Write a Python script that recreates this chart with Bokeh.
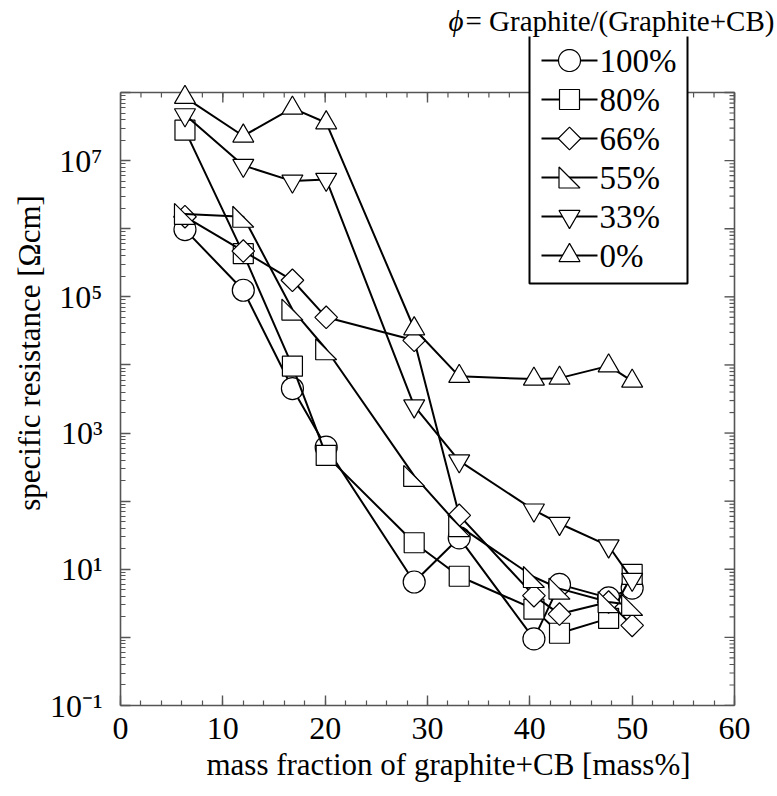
import numpy as np
from bokeh.plotting import figure
from bokeh.models import (FixedTicker, SingleIntervalTicker, CustomJSTickFormatter,
                          Label, PolyAnnotation)
from bokeh.embed import file_html
from bokeh.resources import INLINE

# ---------------- data ----------------
mass_fraction = [6.3, 12.0, 16.8, 20.1, 28.7, 33.1, 40.4, 42.9, 47.7, 50.0]
phi_labels = ["100%", "80%", "66%", "55%", "33%", "0%"]
res_100 = [9.7e5, 1.25e5, 4.5e3, 620, 6.5, 29, 0.95, 6.0, 3.8, 5.3]
res_80 = [2.8e7, 4.3e5, 9.6e3, 470, 24.5, 7.9, 2.6, 1.15, 1.9, 8.4]
res_66 = [1.5e6, 4.7e5, 1.75e5, 5.0e4, 2.3e4, 62, 4.1, 2.2, 3.3, 1.5]
res_55 = [1.65e6, 1.5e6, 6.5e4, 1.7e4, 235, 43, 7.7, 5.2, 3.3, 3.0]
res_33 = [4.7e7, 8.5e6, 5.0e6, 5.3e6, 2.5e3, 390, 74, 47, 22, 7.1]
res_0 = [8.5e7, 2.3e7, 5.9e7, 3.6e7, 3.4e4, 6.8e3, 6.2e3, 6.4e3, 9.7e3, 5.8e3]

x_span = (0, 60)
y_span = (1e-1, 1e8)
x_label = "mass fraction of graphite+CB [mass%]"
y_label = "specific resistance [\u03a9cm]"
legend_title_sym = "\u03d5"
legend_title_rest = "= Graphite/(Graphite+CB)"

FONT = "Liberation Serif"
AX_COLOR = "#555555"

# ---------------- layout geometry (pixels) ----------------
AXES_W, AXES_H = 614, 613        # the drawn box 0..60 x 1e-1..1e8
LEFT, TOP_EXTRA, RIGHT_EXTRA = 120, 92, 42   # frame extended up/right for legend & title
px_x = AXES_W / (x_span[1] - x_span[0])
px_dec = AXES_H / (np.log10(y_span[1]) - np.log10(y_span[0]))
x_range = (x_span[0], x_span[1] + RIGHT_EXTRA / px_x)
y_range = (y_span[0], y_span[1] * 10 ** (TOP_EXTRA / px_dec))

p = figure(frame_width=AXES_W + RIGHT_EXTRA, frame_height=AXES_H + TOP_EXTRA,
           x_range=x_range, y_range=y_range, y_axis_type="log",
           output_backend="svg", toolbar_location=None, title_location=None,
           min_border_left=LEFT, min_border_top=0, min_border_right=0, min_border_bottom=0,
           background_fill_color="white", border_fill_color="white")
p.outline_line_color = None
p.xgrid.visible = False
p.ygrid.visible = False

def style_axis(ax):
    ax.axis_line_color = AX_COLOR
    ax.axis_line_width = 1.6
    ax.major_tick_line_color = AX_COLOR
    ax.minor_tick_line_color = AX_COLOR
    ax.major_tick_line_width = 1.4
    ax.minor_tick_line_width = 1.2
    ax.major_tick_in = 10
    ax.major_tick_out = 0
    ax.minor_tick_in = 5
    ax.minor_tick_out = 0
    ax.major_label_text_font = FONT
    ax.major_label_text_font_size = "32px"
    ax.major_label_text_color = "black"
    ax.axis_label_text_font = FONT
    ax.axis_label_text_font_size = "31px"
    ax.axis_label_text_font_style = "normal"
    ax.axis_label_text_color = "black"

decades = [10.0 ** k for k in range(-1, 9)]
minors = [m * 10.0 ** k for k in range(-1, 8) for m in range(2, 10)]

sup_fmt = CustomJSTickFormatter(code="""
const e = Math.round(Math.log10(tick));
if ((((e % 2) + 2) % 2) == 0) return "";
const sup = {"-":"\u207b","0":"\u2070","1":"\u00b9","2":"\u00b2","3":"\u00b3","4":"\u2074",
             "5":"\u2075","6":"\u2076","7":"\u2077","8":"\u2078","9":"\u2079"};
return "10" + String(e).split("").map(c => sup[c]).join("");
""")

xb = p.xaxis[0]
xb.ticker = SingleIntervalTicker(interval=10, num_minor_ticks=5)
xb.bounds = x_span
xb.axis_label = x_label
style_axis(xb)
xb.major_label_standoff = 12
xb.axis_label_standoff = 5

yl = p.yaxis[0]
yl.ticker = FixedTicker(ticks=decades, minor_ticks=minors)
yl.bounds = y_span
yl.formatter = sup_fmt
yl.axis_label = y_label
style_axis(yl)
yl.major_label_standoff = 18
yl.axis_label_standoff = 0

# top and right edges of the box, with inward ticks (drawn inside the extended frame)
seg_kw = dict(line_color=AX_COLOR, line_width=1.4)
top_minor = np.arange(x_span[0], x_span[1] + 0.01, 2.0)
top_major = np.arange(x_span[0], x_span[1] + 0.01, 10.0)
p.segment(x0=top_minor, y0=[y_span[1]] * len(top_minor), x1=top_minor,
          y1=[y_span[1] / 10 ** (5 / px_dec)] * len(top_minor), line_width=1.2, line_color=AX_COLOR)
p.segment(x0=top_major, y0=[y_span[1]] * len(top_major), x1=top_major,
          y1=[y_span[1] / 10 ** (10 / px_dec)] * len(top_major), **seg_kw)
p.segment(x0=[x_span[1]] * len(minors), y0=minors, x1=[x_span[1] - 5 / px_x] * len(minors), y1=minors,
          line_width=1.2, line_color=AX_COLOR)
p.segment(x0=[x_span[1]] * len(decades), y0=decades, x1=[x_span[1] - 10 / px_x] * len(decades), y1=decades,
          **seg_kw)
p.segment(x0=[x_span[0], x_span[1]], y0=[y_span[1], y_span[0]], x1=[x_span[1], x_span[1]],
          y1=[y_span[1], y_span[1]], line_color=AX_COLOR, line_width=1.6)

# ---------------- series ----------------
LW = 2
MLW = 1.2
series = [res_100, res_80, res_66, res_55, res_33, res_0]
for lab, res in zip(phi_labels, series):
    p.line(mass_fraction, res, line_color="black", line_width=LW)
    mk = dict(fill_color="white", line_color="black", line_width=MLW)
    if lab == "100%":
        p.scatter(mass_fraction, res, marker="circle", size=22, **mk)
    elif lab == "80%":
        p.scatter(mass_fraction, res, marker="square", size=20, **mk)
    elif lab == "66%":
        p.scatter(mass_fraction, res, marker="square", angle=np.pi / 4, size=16, **mk)
    elif lab == "55%":
        hw = 10.5
        dx = hw / px_x
        fy = 10 ** (hw / px_dec)
        xs = [[x - dx, x - dx, x + dx] for x in mass_fraction]
        ys = [[y * fy, y / fy, y / fy] for y in res]
        p.patches(xs, ys, **mk)
    elif lab == "33%":
        p.scatter(mass_fraction, res, marker="inverted_triangle", size=21, **mk)
    elif lab == "0%":
        p.scatter(mass_fraction, res, marker="triangle", size=21, **mk)

# ---------------- legend (built from annotations, page-pixel geometry) ----------------
FRAME_BOTTOM_PAGE = TOP_EXTRA + AXES_H

def fx(page_x):
    return page_x - LEFT

def fy_(page_y):
    return FRAME_BOTTOM_PAGE - page_y

BOX_L, BOX_R, BOX_T, BOX_B = 529, 687, 33, 283
ROW0, ROW = 60, 39
LINE_X0, LINE_X1, TEXT_X = 541, 597, 599
MX = (LINE_X0 + LINE_X1) / 2

def poly(xs, ys, fill=True, lw=MLW):
    p.add_layout(PolyAnnotation(xs=[fx(v) for v in xs], ys=[fy_(v) for v in ys],
                                xs_units="screen", ys_units="screen",
                                fill_color="white" if fill else None, fill_alpha=1.0 if fill else 0.0,
                                line_color="black", line_alpha=1.0, line_width=lw))

# box
poly([BOX_L, BOX_R, BOX_R, BOX_L], [BOX_B, BOX_B, BOX_T, BOX_T], fill=True, lw=2)

t = np.linspace(0, 2 * np.pi, 48, endpoint=False)
for k, lab in enumerate(phi_labels):
    cy = ROW0 + k * ROW
    poly([LINE_X0, LINE_X1], [cy, cy], fill=False, lw=LW)
    if lab == "100%":
        r = 11
        poly(MX + r * np.cos(t), cy + r * np.sin(t))
    elif lab == "80%":
        r = 10
        poly([MX - r, MX + r, MX + r, MX - r], [cy - r, cy - r, cy + r, cy + r])
    elif lab == "66%":
        r = 11.3
        poly([MX, MX + r, MX, MX - r], [cy - r, cy, cy + r, cy])
    elif lab == "55%":
        r = 10.5
        poly([MX - r, MX - r, MX + r], [cy - r, cy + r, cy + r])
    elif lab == "33%":
        r = 10.5; h = r * np.sqrt(3); a = h / 3
        poly([MX - r, MX + r, MX], [cy - a, cy - a, cy - a + h])
    elif lab == "0%":
        r = 10.5; h = r * np.sqrt(3); a = h / 3
        poly([MX - r, MX + r, MX], [cy + a, cy + a, cy + a - h])
    p.add_layout(Label(x=fx(TEXT_X), y=fy_(cy), x_units="screen", y_units="screen",
                       text=lab, text_font=FONT, text_font_size="33px",
                       text_align="left", text_baseline="middle", text_color="black"))

# legend title (drawn over the box's top edge)
TITLE_Y = 20
p.add_layout(Label(x=fx(465), y=fy_(TITLE_Y), x_units="screen", y_units="screen",
                   text=legend_title_rest, text_font=FONT, text_font_size="29px",
                   text_align="left", text_baseline="middle", text_color="black",
                   background_fill_color="white", background_fill_alpha=1.0))
p.add_layout(Label(x=fx(463), y=fy_(TITLE_Y), x_units="screen", y_units="screen",
                   text=legend_title_sym, text_font=FONT, text_font_size="29px",
                   text_font_style="italic",
                   text_align="right", text_baseline="middle", text_color="black",
                   background_fill_color="white", background_fill_alpha=1.0))

open("out.html", "w").write(file_html(p, INLINE))
